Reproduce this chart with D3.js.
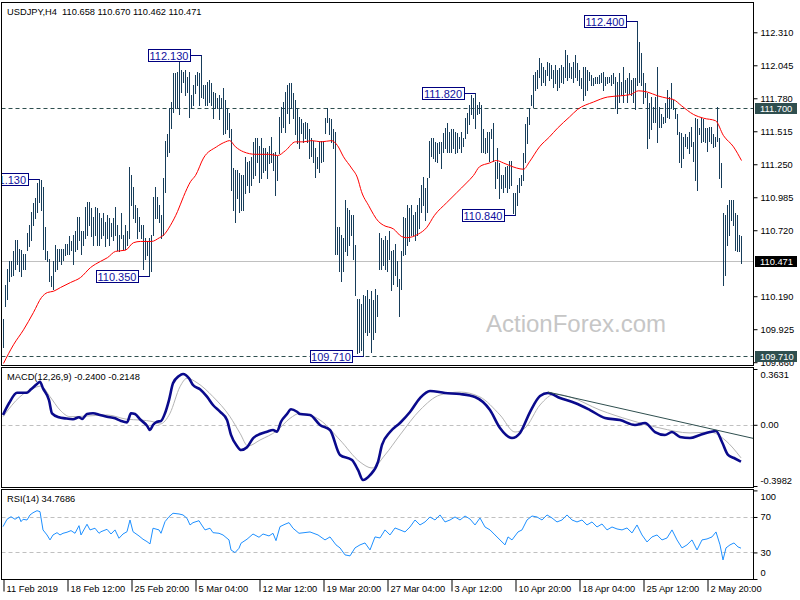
<!DOCTYPE html>
<html><head><meta charset="utf-8">
<script src="https://cdn.jsdelivr.net/npm/d3@7"></script>
<style>
body{margin:0;background:#fff}
svg{display:block}
text{font-family:"Liberation Sans",Arial,sans-serif}
</style>
</head><body>
<svg id="c" width="800" height="600"></svg>
<script>
// ---------- DATA ----------
const priceHigh = [
110.01,110.28,110.41,110.47,110.47,110.55,110.64,110.64,110.57,110.56,
110.53,110.53,110.70,110.76,110.87,110.94,110.98,111.10,111.13,111.12,
111.07,110.75,110.55,110.49,110.35,110.47,110.60,110.57,110.57,110.57,
110.57,110.61,110.61,110.67,110.63,110.68,110.71,110.83,110.83,110.71,
110.71,110.91,110.95,110.95,110.90,110.83,110.91,110.90,110.86,110.82,
110.86,110.79,110.84,110.82,110.78,110.82,110.91,110.76,110.68,110.86,
110.68,110.76,110.71,111.23,111.16,111.07,110.92,110.90,110.83,110.76,
110.76,110.66,110.63,110.66,110.68,110.99,111.07,110.99,110.92,110.84,
111.14,111.44,111.49,111.70,111.75,111.98,111.98,111.99,112.07,112.01,
111.99,112.01,111.95,111.99,111.81,111.89,111.97,111.99,111.98,112.13,
111.89,111.89,111.91,111.93,111.90,111.83,111.82,111.78,111.81,111.78,
111.86,111.77,111.70,111.66,111.53,111.22,111.20,111.20,111.18,111.16,
111.16,111.31,111.27,111.28,111.31,111.43,111.46,111.46,111.40,111.46,
111.38,111.38,111.35,111.40,111.47,111.34,111.35,111.32,111.63,111.71,
111.75,111.83,111.89,111.90,111.90,111.82,111.77,111.70,111.63,111.61,
111.58,111.59,111.58,111.53,111.46,111.44,111.38,111.31,111.43,111.44,
111.44,111.62,111.70,111.62,111.61,111.53,111.51,110.75,110.75,110.68,
110.66,110.96,110.90,110.88,110.84,110.84,110.60,110.17,110.17,110.13,
110.20,110.19,110.24,110.17,110.23,110.16,110.25,110.20,110.70,110.66,
110.64,110.67,110.64,110.71,110.55,110.56,110.61,110.47,110.33,110.55,
110.83,110.82,110.92,110.90,110.92,110.84,110.87,110.92,110.98,111.08,
111.15,111.06,111.14,111.44,111.46,111.46,111.43,111.42,111.43,111.43,
111.50,111.54,111.58,111.51,111.53,111.53,111.51,111.50,111.47,111.51,
111.46,111.62,111.66,111.73,111.81,111.78,111.82,111.73,111.75,111.73,
111.53,111.46,111.51,111.51,111.53,111.58,111.27,111.38,111.26,111.16,
111.16,111.23,111.24,111.28,111.28,111.02,111.02,111.08,111.14,111.16,
111.34,111.57,111.63,111.70,111.81,111.97,111.99,112.01,112.10,112.06,
112.03,112.01,112.07,112.06,112.05,112.01,112.05,112.01,112.02,112.05,
112.03,112.17,112.13,112.06,112.03,112.07,112.13,112.06,112.01,111.94,
112.03,112.03,112.01,111.99,111.97,111.94,111.95,111.95,111.97,111.98,
111.99,111.95,111.95,111.95,111.97,111.98,111.95,111.91,111.98,111.91,
112.03,111.93,111.94,111.98,111.93,111.94,111.94,112.40,112.23,112.14,
111.98,111.90,111.82,111.74,111.79,111.71,111.79,112.03,111.71,111.65,
111.63,111.74,111.85,111.79,111.90,111.77,111.70,111.65,111.51,111.50,
111.47,111.49,111.47,111.51,111.55,111.43,111.62,111.61,111.54,111.62,
111.61,111.54,111.54,111.55,111.55,111.49,111.47,111.71,111.46,111.26,
110.86,110.84,110.92,110.96,110.96,110.96,110.86,110.84,110.68,110.67];

const priceLow = [
109.78,110.11,110.17,110.31,110.35,110.36,110.41,110.45,110.39,110.35,
110.41,110.41,110.56,110.59,110.64,110.76,110.82,110.87,110.95,110.88,
110.57,110.49,110.47,110.31,110.27,110.25,110.39,110.41,110.47,110.45,
110.48,110.52,110.53,110.53,110.56,110.45,110.55,110.57,110.64,110.53,
110.60,110.66,110.68,110.76,110.67,110.60,110.68,110.60,110.60,110.66,
110.68,110.59,110.66,110.60,110.67,110.64,110.68,110.56,110.55,110.66,
110.57,110.57,110.60,110.66,110.92,110.82,110.79,110.66,110.71,110.66,
110.41,110.49,110.52,110.35,110.39,110.68,110.82,110.82,110.79,110.66,
110.68,111.03,111.32,111.35,111.54,111.67,111.70,111.70,111.65,111.83,
111.91,111.81,111.83,111.63,111.70,111.73,111.82,111.89,111.73,111.79,
111.78,111.73,111.73,111.75,111.73,111.62,111.70,111.70,111.61,111.70,
111.49,111.50,111.53,111.47,111.04,110.88,110.79,110.98,110.87,110.88,
110.88,111.02,111.08,111.03,111.08,111.14,111.16,111.27,111.11,111.14,
111.19,111.20,111.14,111.26,111.27,111.20,111.00,111.12,111.34,111.51,
111.55,111.51,111.66,111.58,111.70,111.62,111.49,111.42,111.38,111.50,
111.43,111.46,111.43,111.30,111.32,111.27,111.15,111.22,111.19,111.27,
111.28,111.50,111.59,111.49,111.43,111.38,110.53,110.53,110.39,110.31,
110.39,110.55,110.52,110.60,110.68,110.49,110.20,109.73,109.74,109.76,
109.71,109.90,109.88,109.90,109.74,109.85,109.90,110.03,110.41,110.41,
110.44,110.41,110.39,110.49,110.24,110.29,110.36,110.27,110.03,110.25,
110.52,110.53,110.60,110.63,110.68,110.68,110.64,110.68,110.74,110.87,
110.92,110.80,110.87,111.15,111.32,111.30,111.28,111.27,111.34,111.22,
111.35,111.38,111.35,111.35,111.35,111.38,111.34,111.35,111.38,111.35,
111.40,111.46,111.50,111.57,111.65,111.62,111.54,111.65,111.66,111.35,
111.35,111.34,111.35,111.28,111.46,111.28,111.06,111.14,110.98,111.06,
111.03,111.07,111.03,111.06,111.08,110.86,110.84,110.92,111.03,111.08,
111.12,111.27,111.42,111.57,111.73,111.71,111.85,111.86,111.95,111.89,
111.91,111.89,111.97,111.93,111.94,111.87,111.90,111.85,111.87,111.91,
111.90,111.95,111.93,111.95,111.94,111.91,111.95,111.93,111.89,111.86,
111.77,111.81,111.85,111.93,111.89,111.89,111.90,111.90,111.90,111.91,
111.85,111.89,111.90,111.91,111.89,111.90,111.70,111.66,111.75,111.81,
111.75,111.83,111.75,111.82,111.81,111.75,111.69,111.89,111.91,111.89,
111.74,111.79,111.38,111.46,111.53,111.59,111.59,111.43,111.55,111.55,
111.58,111.59,111.63,111.62,111.70,111.69,111.62,111.49,111.27,111.23,
111.30,111.40,111.38,111.34,111.40,111.28,111.12,111.04,111.49,111.43,
111.44,111.43,111.36,111.44,111.42,111.39,111.40,111.44,111.14,111.07,
110.28,110.36,110.60,110.68,110.80,110.76,110.56,110.55,110.55,110.46];

// moving average [bar, value]
const maPoints = [[0,109.65],[5,109.80],[10,109.92],[15,110.06],[19,110.18],[22,110.22],[25,110.23],[28.5,110.26],[33.5,110.30],[38.5,110.34],[43.5,110.42],[48.5,110.47],[52,110.50],[56,110.55],[61,110.56],[65,110.62],[68.5,110.63],[72,110.63],[74,110.63],[78,110.66],[80,110.68],[83.5,110.76],[87,110.87],[90,110.99],[93.5,111.11],[96,111.16],[100,111.30],[106.5,111.39],[111,111.43],[113,111.44],[116,111.39],[120,111.35],[126,111.33],[132.5,111.33],[137,111.32],[141,111.36],[146,111.43],[150,111.43],[154,111.44],[159,111.43],[164,111.44],[167,111.40],[170,111.31],[174,111.22],[177,111.14],[179,111.03],[182.5,110.92],[187.5,110.79],[190,110.76],[195,110.73],[199,110.67],[201.5,110.66],[207.5,110.69],[211.5,110.74],[215.5,110.84],[221.5,110.94],[226.5,111.02],[231.5,111.10],[235,111.16],[238,111.23],[243,111.26],[246.5,111.28],[250,111.26],[253,111.24],[256.5,111.22],[260,111.21],[263,111.27],[268,111.39],[273,111.47],[277,111.54],[283,111.63],[287,111.69],[295,111.75],[302,111.79],[308.5,111.80],[313.5,111.81],[317.5,111.84],[322,111.83],[327,111.80],[332,111.78],[335,111.77],[339,111.72],[345,111.65],[350,111.62],[356,111.60],[360,111.48],[365,111.39],[369,111.28]];

const macdPoints = [[0,0.064],[3,0.140],[7,0.209],[12,0.209],[14,0.231],[17,0.265],[18.5,0.280],[20,0.237],[23,0.161],[24.5,0.075],[28,0.049],[31,0.042],[35,0.036],[38,0.049],[39.5,0.038],[42,0.070],[45,0.075],[48.5,0.064],[52,0.053],[56,0.042],[59,0.025],[62,0.016],[64,0.075],[66,0.070],[68.5,0.036],[72,-0.006],[73.5,-0.034],[75,-0.001],[77,0.020],[79,0.025],[81,0.075],[83,0.161],[85,0.270],[88,0.318],[90,0.331],[93,0.303],[95,0.259],[98.5,0.231],[102,0.183],[105,0.129],[108.5,0.085],[112,0.031],[114,-0.066],[117,-0.138],[119,-0.164],[122,-0.146],[125,-0.088],[128.5,-0.060],[132,-0.045],[135,-0.034],[137,-0.045],[139,0.020],[142,0.070],[144,0.101],[147,0.085],[148.5,0.070],[153.5,0.064],[158.5,-0.001],[163.5,-0.034],[168.5,-0.196],[174.5,-0.229],[177.5,-0.294],[180,-0.359],[183.5,-0.327],[187.5,-0.242],[189.5,-0.131],[193.5,-0.047],[198.5,0.012],[203.5,0.083],[208.5,0.174],[213.5,0.220],[221,0.207],[228.5,0.200],[236,0.181],[243.5,0.096],[248.5,-0.021],[254.5,-0.086],[258.5,-0.053],[263.5,0.083],[268.5,0.187],[272.5,0.207],[278.5,0.174],[286,0.142],[293.5,0.096],[301,0.044],[308.5,0.031],[316,-0.001],[321,0.012],[326,-0.047],[331,-0.066],[334.5,-0.047],[338.5,-0.079],[343.5,-0.086],[348.5,-0.066],[353.5,-0.047],[356.5,-0.040],[359.5,-0.112],[362.5,-0.196],[365.5,-0.216],[369,-0.240]];

const signalPoints = [[0,0.053],[8.5,0.183],[15,0.237],[19,0.252],[23.5,0.183],[28.5,0.096],[33.5,0.053],[42,0.057],[52,0.064],[62,0.036],[68.5,0.031],[75,0.020],[78.5,0.005],[83.5,0.075],[88.5,0.248],[92,0.303],[97,0.274],[105,0.183],[113.5,0.053],[118.5,-0.055],[122.5,-0.138],[128.5,-0.099],[137,-0.038],[143.5,0.042],[148.5,0.075],[158.5,0.031],[168.5,-0.099],[178.5,-0.242],[184.5,-0.281],[191,-0.196],[198.5,-0.066],[208.5,0.096],[218.5,0.194],[228.5,0.213],[238.5,0.181],[248.5,0.064],[256,-0.047],[261,-0.021],[268.5,0.129],[276,0.200],[283.5,0.181],[298.5,0.096],[313.5,0.031],[328.5,-0.021],[343.5,-0.053],[353.5,-0.047],[361,-0.099],[369,-0.215]];

const macdTrend = [[272.5,0.213],[375,-0.088]];

const rsiPoints = [[0,59.1],[2,67.4],[4,70.3],[6,67.4],[8,70.3],[9,64.7],[10,67.4],[12,66.6],[13.5,72.3],[15,74.8],[17,77.1],[18.5,76.0],[20,55.4],[22,49.7],[23.5,44.1],[25,49.7],[27,52.3],[28.5,49.7],[30,51.6],[32,52.8],[34,54.6],[36,51.6],[38,60.2],[39,49.7],[42,61.8],[43.5,55.4],[46,57.3],[48,51.6],[49,53.4],[52,56.1],[54,50.8],[56,55.4],[58,46.0],[60,50.8],[62,53.4],[63.5,66.6],[65,53.4],[68,48.6],[70,44.9],[72,42.2],[73.5,39.6],[75,57.3],[78,55.4],[79,51.6],[81,64.7],[83,70.3],[85,74.2],[88,73.4],[90,72.3],[92,68.5],[93.5,61.0],[95,63.6],[98,65.8],[99,62.1],[101,55.4],[103.5,57.3],[105,52.3],[108,51.6],[110,49.7],[113,44.1],[114,32.8],[116,29.8],[118,34.7],[119,40.4],[122,44.9],[125,50.8],[128,47.1],[130,50.8],[133,48.6],[135,51.6],[136.5,43.3],[138.5,59.1],[141,61.8],[143,63.6],[145,57.3],[148,51.6],[153.5,53.1],[157.5,49.7],[161,44.1],[163.5,47.5],[166.5,38.5],[168.5,35.1],[171,27.2],[173.5,26.1],[176,35.1],[178.5,38.5],[181,40.7],[183.5,32.8],[186,47.5],[188.5,46.3],[191,55.4],[193.5,49.7],[196,57.6],[198.5,55.4],[201,53.1],[203.5,58.7],[206,66.6],[208.5,61.0],[211,64.4],[213.5,70.0],[216,66.6],[218.5,72.3],[221,64.4],[223.5,66.6],[226,70.0],[228.5,66.6],[231,71.1],[233.5,67.7],[236,61.0],[238.5,68.9],[241,58.7],[243.5,55.4],[246,49.7],[248.5,44.1],[251,38.5],[252.5,47.5],[254.5,44.1],[257.5,53.1],[259.5,55.4],[262,66.6],[264.5,71.1],[267,70.0],[269.5,66.6],[272,72.3],[274.5,68.9],[277,64.4],[279.5,66.6],[282,72.3],[284.5,66.6],[287,64.4],[289.5,66.6],[292,61.0],[294.5,64.4],[297,58.7],[299.5,62.1],[302,55.4],[304.5,58.7],[307,56.5],[309.5,55.4],[312,57.6],[314.5,52.0],[317,61.0],[319.5,49.7],[322,41.8],[324.5,47.5],[327,49.7],[329.5,44.1],[332,46.3],[334.5,55.4],[337,44.1],[339.5,35.1],[342,38.5],[344.5,44.1],[347,32.8],[349.5,44.1],[352,45.2],[354.5,47.5],[356.5,53.1],[358.5,38.5],[360,21.5],[361.5,35.1],[363.5,38.5],[365.5,40.7],[367.5,36.2],[369,34.8]];

const priceTicks = [112.310,112.045,111.780,111.515,111.250,110.985,110.720,110.190,109.925,109.660];
const macdTicks = [0.3631,0,-0.3982];
const rsiTicks = [100,70,30,0];
const rsiLevels = [70,30];
const timeBars = [0,32,64,96,128,160,192,224,256,288,320,352];
const timeLabels = ["11 Feb 2019","18 Feb 12:00","25 Feb 20:00","5 Mar 04:00","12 Mar 12:00","19 Mar 20:00","27 Mar 04:00","3 Apr 12:00","10 Apr 20:00","18 Apr 04:00","25 Apr 12:00","2 May 20:00"];
const swingLabels = [[18,111.130],[99,112.130],[73,110.350],[180,109.710],[236,111.820],[256,110.840],[317,112.400]];
const levelLines = [111.700,109.710];
const lastPrice = 110.471;
const titleMain = "USDJPY,H4  110.658 110.670 110.462 110.471";
const titleMacd = "MACD(12,26,9) -0.2400 -0.2148";
const titleRsi = "RSI(14) 34.7686";

// ---------- LAYOUT ----------
const L = 1.5, R = 753.5;
const P = {main:[2.5,365.5], macd:[367.5,487.5], rsi:[489.5,579.5]};
const FS = 9.3;
const barColor = "#173d5a";

const svg = d3.select("#c");
const n = priceHigh.length;
const x = d3.scaleLinear().domain([0, n-1]).range([3, 3 + 2*(n-1)]);
const yP = d3.scaleLinear().domain([109.66,112.31]).range([362.2,32.3]);
const yM = d3.scaleLinear().domain([-0.3982,0.3631]).range([486,369]);
const yR = d3.scaleLinear().domain([0,100]).range([579,490.4]);

const defs = svg.append("defs");
Object.entries(P).forEach(([k,[t,b]]) => {
  defs.append("clipPath").attr("id","clip-"+k).append("rect")
    .attr("x",L+0.5).attr("y",t+0.5).attr("width",R-L-1).attr("height",b-t-1);
});

// watermark
svg.append("text").attr("x",486).attr("y",332).attr("font-size",24)
  .attr("fill","#c6c6c6").text("ActionForex.com");

// ---- main panel ----
const gm = svg.append("g").attr("clip-path","url(#clip-main)");
gm.append("line").attr("x1",L).attr("x2",R).attr("y1",Math.round(yP(lastPrice))+0.5).attr("y2",Math.round(yP(lastPrice))+0.5)
  .attr("stroke","#c0c0c0");
gm.selectAll(".lvl").data(levelLines).join("line").attr("class","lvl")
  .attr("x1",L).attr("x2",R).attr("y1",d=>Math.round(yP(d))+0.5).attr("y2",d=>Math.round(yP(d))+0.5)
  .attr("stroke","#2f4f4f").attr("stroke-dasharray","4,3");
gm.selectAll(".bar").data(d3.range(n)).join("line").attr("class","bar")
  .attr("x1",i=>x(i)+0.5).attr("x2",i=>x(i)+0.5)
  .attr("y1",i=>Math.round(yP(priceHigh[i]))).attr("y2",i=>Math.round(yP(priceLow[i]))+1)
  .attr("stroke",barColor).attr("stroke-width",1).attr("shape-rendering","crispEdges");
gm.append("path").datum(maPoints)
  .attr("d",d3.line().x(d=>x(d[0])+0.5).y(d=>yP(d[1])).curve(d3.curveMonotoneX))
  .attr("fill","none").attr("stroke","#ff0000").attr("stroke-width",1);

// swing labels
const sw = gm.selectAll(".sw").data(swingLabels).join("g").attr("class","sw");
sw.append("line").attr("x1",d=>x(d[0])-11).attr("x2",d=>x(d[0])+0.5)
  .attr("y1",d=>Math.round(yP(d[1]))+0.5).attr("y2",d=>Math.round(yP(d[1]))+0.5)
  .attr("stroke","#000080");
sw.append("rect").attr("x",d=>x(d[0])-11-42+0.5).attr("y",d=>Math.round(yP(d[1]))-6+0.5)
  .attr("width",42).attr("height",12).attr("fill","#fff").attr("stroke","#000080");
sw.append("text").attr("x",d=>x(d[0])-11-21).attr("y",d=>Math.round(yP(d[1]))+4.5)
  .attr("text-anchor","middle").attr("font-size",11).attr("fill","#1010a0")
  .text(d=>d[1].toFixed(3));

svg.append("text").attr("x",7).attr("y",15).attr("font-size",FS).attr("fill","#000")
  .attr("xml:space","preserve").style("white-space","pre").text(titleMain);

// ---- MACD panel ----
const gd = svg.append("g").attr("clip-path","url(#clip-macd)");
gd.append("line").attr("x1",L).attr("x2",R).attr("y1",Math.round(yM(0))+0.5).attr("y2",Math.round(yM(0))+0.5)
  .attr("stroke","#c0c0c0").attr("stroke-dasharray","4,3");
gd.append("path").datum(signalPoints)
  .attr("d",d3.line().x(d=>x(d[0])).y(d=>yM(d[1])).curve(d3.curveMonotoneX))
  .attr("fill","none").attr("stroke","#b4b4b4").attr("stroke-width",1);
gd.append("path").datum(macdPoints)
  .attr("d",d3.line().x(d=>x(d[0])).y(d=>yM(d[1])).curve(d3.curveMonotoneX))
  .attr("fill","none").attr("stroke","#0a0a8c").attr("stroke-width",2.6).attr("stroke-linejoin","round");
svg.append("line").attr("x1",x(macdTrend[0][0])).attr("y1",yM(macdTrend[0][1]))
  .attr("x2",x(macdTrend[1][0])).attr("y2",yM(macdTrend[1][1]))
  .attr("stroke","#2f4f4f").attr("stroke-width",1);
svg.append("text").attr("x",7).attr("y",380).attr("font-size",FS).attr("fill","#000").text(titleMacd);

// ---- RSI panel ----
const gr = svg.append("g").attr("clip-path","url(#clip-rsi)");
gr.selectAll(".rl").data(rsiLevels).join("line").attr("class","rl")
  .attr("x1",L).attr("x2",R).attr("y1",d=>Math.round(yR(d))+0.5).attr("y2",d=>Math.round(yR(d))+0.5)
  .attr("stroke","#c0c0c0").attr("stroke-dasharray","4,3");
gr.append("path").datum(rsiPoints)
  .attr("d",d3.line().x(d=>x(d[0])).y(d=>yR(d[1])))
  .attr("fill","none").attr("stroke","#1e90ff").attr("stroke-width",1);
svg.append("text").attr("x",7).attr("y",502).attr("font-size",FS).attr("fill","#000").text(titleRsi);

// ---- frames ----
Object.values(P).forEach(([t,b]) => {
  svg.append("rect").attr("x",L).attr("y",t).attr("width",R-L).attr("height",b-t)
    .attr("fill","none").attr("stroke","#000");
});

// ---- axes ----
function styleAxis(g){
  g.select(".domain").remove();
  g.selectAll("line").attr("stroke","#000");
  g.selectAll("text").attr("font-size",FS).attr("fill","#000").attr("font-family",'"Liberation Sans",Arial,sans-serif');
}
const ap = svg.append("g").attr("transform",`translate(${R},0)`)
  .call(d3.axisRight(yP).tickValues(priceTicks).tickSize(4).tickPadding(3).tickFormat(d3.format(".3f")));
styleAxis(ap);

function clampAxis(g, scale, top, bottom){
  g.selectAll(".tick text").attr("y", d => {
    const yy = scale(d);
    const c = Math.max(top+7, Math.min(bottom-7, yy));
    return c - yy;
  });
}
const am = svg.append("g").attr("transform",`translate(${R},0)`)
  .call(d3.axisRight(yM).tickValues(macdTicks).tickSize(4).tickPadding(3).tickFormat(d=>d===0?"0.00":d.toFixed(4)));
styleAxis(am); clampAxis(am, yM, P.macd[0], P.macd[1]);

const ar = svg.append("g").attr("transform",`translate(${R},0)`)
  .call(d3.axisRight(yR).tickValues(rsiTicks).tickSize(4).tickPadding(3).tickFormat(d3.format("d")));
styleAxis(ar); clampAxis(ar, yR, P.rsi[0], P.rsi[1]);

const at = svg.append("g").attr("transform",`translate(0,${P.rsi[1]})`)
  .call(d3.axisBottom(x).tickValues(timeBars).tickSize(12).tickFormat((d,i)=>timeLabels[i]));
styleAxis(at);
at.selectAll(".tick line").attr("transform","translate(0.5,0)");
at.selectAll(".tick text").attr("text-anchor","start").attr("x",3).attr("y",6).attr("dy","0.71em");

// ---- price labels on axis ----
const tags = [[levelLines[0],"#2f4f4f"],[levelLines[1],"#2f4f4f"],[lastPrice,"#000"]];
const tg = svg.selectAll(".tag").data(tags).join("g").attr("class","tag");
tg.append("rect").attr("x",755).attr("y",d=>Math.round(yP(d[0]))-5).attr("width",42).attr("height",11).attr("fill",d=>d[1]);
tg.append("text").attr("x",760).attr("y",d=>Math.round(yP(d[0]))+4).attr("font-size",FS).attr("fill","#fff")
  .text(d=>d[0].toFixed(3));
</script>
</body></html>
